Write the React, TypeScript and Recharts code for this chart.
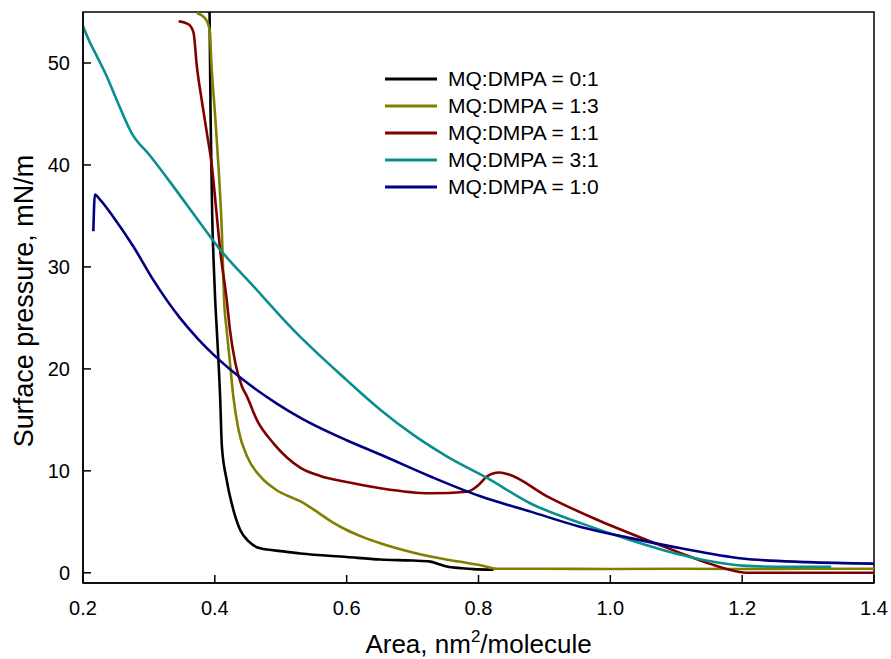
import React from 'react';
import {
  LineChart,
  Line,
  XAxis,
  YAxis,
  Legend,
  ReferenceArea,
} from 'recharts';

// area (nm2/molecule), surface pressure (mN/m)
const ratio01: [number, number][] = [
  [0.392, 55], [0.3935, 45], [0.396, 35], [0.3985, 30], [0.4005, 26.8], [0.403, 23.8],
  [0.408, 17.3], [0.4107, 12.4], [0.418, 9.1], [0.428, 6.2], [0.4385, 4.2], [0.451, 3.1],
  [0.469, 2.4], [0.504, 2.1], [0.53, 1.9], [0.6, 1.55], [0.651, 1.3], [0.7, 1.2],
  [0.727, 1.1], [0.74, 0.85], [0.752, 0.62], [0.775, 0.45], [0.792, 0.36], [0.823, 0.3],
];

const ratio13: [number, number][] = [
  [0.3727, 54.9], [0.385, 54.4], [0.392, 53.3], [0.395, 49.7], [0.4005, 44.8], [0.4055, 39.9],
  [0.4107, 33.4], [0.414, 26.8], [0.418, 23.8], [0.423, 20.6], [0.428, 17.3], [0.436, 14.0],
  [0.449, 11.4], [0.469, 9.45], [0.494, 8.1], [0.5195, 7.3], [0.53, 7.0], [0.55, 6.2],
  [0.58, 4.9], [0.6, 4.2], [0.625, 3.5], [0.651, 2.9], [0.7, 2.0], [0.727, 1.6],
  [0.77, 1.1], [0.803, 0.75], [0.828, 0.4], [0.9, 0.4], [1.0, 0.38], [1.1, 0.4],
  [1.2, 0.38], [1.3, 0.4], [1.4, 0.4],
];

const ratio11: [number, number][] = [
  [0.345, 54.1], [0.36, 53.8], [0.3676, 53.0], [0.3727, 49.7], [0.38, 46.4], [0.388, 43.1],
  [0.3955, 39.9], [0.403, 35.0], [0.408, 31.7], [0.418, 26.8], [0.423, 23.8], [0.431, 20.6],
  [0.441, 18.3], [0.4487, 17.3], [0.4637, 15.0], [0.489, 12.7], [0.53, 10.3], [0.56, 9.5],
  [0.6, 8.9], [0.651, 8.3], [0.727, 7.8], [0.783, 7.95], [0.798, 8.5], [0.813, 9.45],
  [0.831, 9.84], [0.8435, 9.7], [0.904, 7.5], [0.98, 5.2], [1.056, 3.2], [1.107, 1.93],
  [1.15, 0.9], [1.19, 0.15], [1.21, 0.0], [1.3, 0.0], [1.4, 0.0],
];

const ratio31: [number, number][] = [
  [0.2, 53.6], [0.2106, 52.0], [0.2208, 50.7], [0.236, 48.7], [0.251, 46.4], [0.274, 43.1],
  [0.3018, 40.9], [0.337, 37.9], [0.3777, 34.3], [0.408, 31.7], [0.4587, 28.1], [0.5195, 23.8],
  [0.6, 18.9], [0.651, 16.0], [0.7017, 13.5], [0.7525, 11.4], [0.813, 9.3], [0.879, 6.8],
  [0.955, 4.87], [1.031, 3.2], [1.107, 1.77], [1.15, 1.15], [1.2, 0.7], [1.25, 0.6],
  [1.335, 0.6],
];

const ratio10: [number, number][] = [
  [0.2157, 33.5], [0.218, 37.1], [0.2258, 36.6], [0.246, 34.9], [0.2764, 32.0], [0.3068, 28.7],
  [0.347, 25.0], [0.375, 22.9], [0.398, 21.4], [0.4435, 18.9], [0.494, 16.6], [0.53, 15.2],
  [0.6, 13.0], [0.651, 11.6], [0.727, 9.45], [0.803, 7.5], [0.879, 6.0], [0.955, 4.5],
  [1.031, 3.4], [1.107, 2.4], [1.2, 1.4], [1.3, 1.05], [1.4, 0.9],
];

const xTicks = [0.2, 0.4, 0.6, 0.8, 1.0, 1.2, 1.4];
const yTicks = [0, 10, 20, 30, 40, 50];

const series = [
  { name: 'MQ:DMPA = 0:1', color: '#000000', points: ratio01 },
  { name: 'MQ:DMPA = 1:3', color: '#808000', points: ratio13 },
  { name: 'MQ:DMPA = 1:1', color: '#800000', points: ratio11 },
  { name: 'MQ:DMPA = 3:1', color: '#0a8f8f', points: ratio31 },
  { name: 'MQ:DMPA = 1:0', color: '#000080', points: ratio10 },
];

const font = '"Liberation Sans", Arial, sans-serif';

// ticks point inward, like the original plot
const XTick = ({ x, y, payload }: any) => (
  <g>
    <line x1={x} x2={x} y1={y} y2={y - 8} stroke="#000" strokeWidth={1.5} />
    <text x={x} y={y + 32} textAnchor="middle" fontSize={20} fontFamily={font} fill="#000">
      {Number(payload.value).toFixed(1)}
    </text>
  </g>
);

const YTick = ({ x, y, payload }: any) => (
  <g>
    <line x1={x} x2={x + 8} y1={y} y2={y} stroke="#000" strokeWidth={1.5} />
    <text x={x - 13} y={y + 7.5} textAnchor="end" fontSize={20} fontFamily={font} fill="#000">
      {payload.value}
    </text>
  </g>
);

const XLabel = ({ viewBox }: any) => {
  const cx = viewBox.x + viewBox.width / 2;
  return (
    <text x={cx} y={viewBox.y + 70} textAnchor="middle" fontSize={26} fontFamily={font} fill="#000">
      Area, nm
      <tspan dy={-11} fontSize={17}>2</tspan>
      <tspan dy={11}>/molecule</tspan>
    </text>
  );
};

const YLabel = ({ viewBox }: any) => {
  const x = viewBox.x + 33;
  const y = 301;
  return (
    <text
      x={x}
      y={y}
      transform={`rotate(-90, ${x}, ${y})`}
      textAnchor="middle"
      fontSize={27}
      fontFamily={font}
      fill="#000"
    >
      Surface pressure, mN/m
    </text>
  );
};

const LegendBox = () => (
  <div style={{ fontFamily: font, fontSize: 21, color: '#000' }}>
    {series.map((s) => (
      <div key={s.name} style={{ display: 'flex', alignItems: 'center', height: 27 }}>
        <svg width={52} height={4} style={{ display: 'block' }}>
          <line x1={0} y1={2} x2={52} y2={2} stroke={s.color} strokeWidth={3} />
        </svg>
        <span style={{ marginLeft: 11, whiteSpace: 'nowrap' }}>{s.name}</span>
      </div>
    ))}
  </div>
);

export default function App() {
  return (
    <div style={{ position: 'absolute', left: 0, top: 0, background: '#fff' }}>
      <LineChart width={891} height={659} margin={{ top: 12, right: 17, bottom: 0, left: 0 }}>
        <XAxis
          type="number"
          dataKey="x"
          domain={[0.2, 1.4]}
          ticks={xTicks}
          allowDataOverflow
          height={76}
          stroke="#000"
          strokeWidth={1.5}
          tickLine={false}
          tickSize={0}
          tickMargin={0}
          tick={<XTick />}
          label={<XLabel />}
        />
        <YAxis
          type="number"
          dataKey="y"
          domain={[-1, 55]}
          ticks={yTicks}
          allowDataOverflow
          width={83}
          stroke="#000"
          strokeWidth={1.5}
          tickLine={false}
          tickSize={0}
          tickMargin={0}
          tick={<YTick />}
          label={<YLabel />}
        />
        <ReferenceArea x1={0.2} x2={1.4} y1={-1} y2={55} fill="none" stroke="#000" strokeWidth={1.5} />
        {series.map((s) => (
          <Line
            key={s.name}
            name={s.name}
            data={s.points.map(([x, y]) => ({ x, y }))}
            dataKey="y"
            type="monotone"
            stroke={s.color}
            strokeWidth={2.6}
            dot={false}
            activeDot={false}
            isAnimationActive={false}
          />
        ))}
        <Legend
          layout="vertical"
          align="center"
          verticalAlign="middle"
          content={<LegendBox />}
          wrapperStyle={{ top: 65, left: 385, width: 'auto' }}
        />
      </LineChart>
    </div>
  );
}
